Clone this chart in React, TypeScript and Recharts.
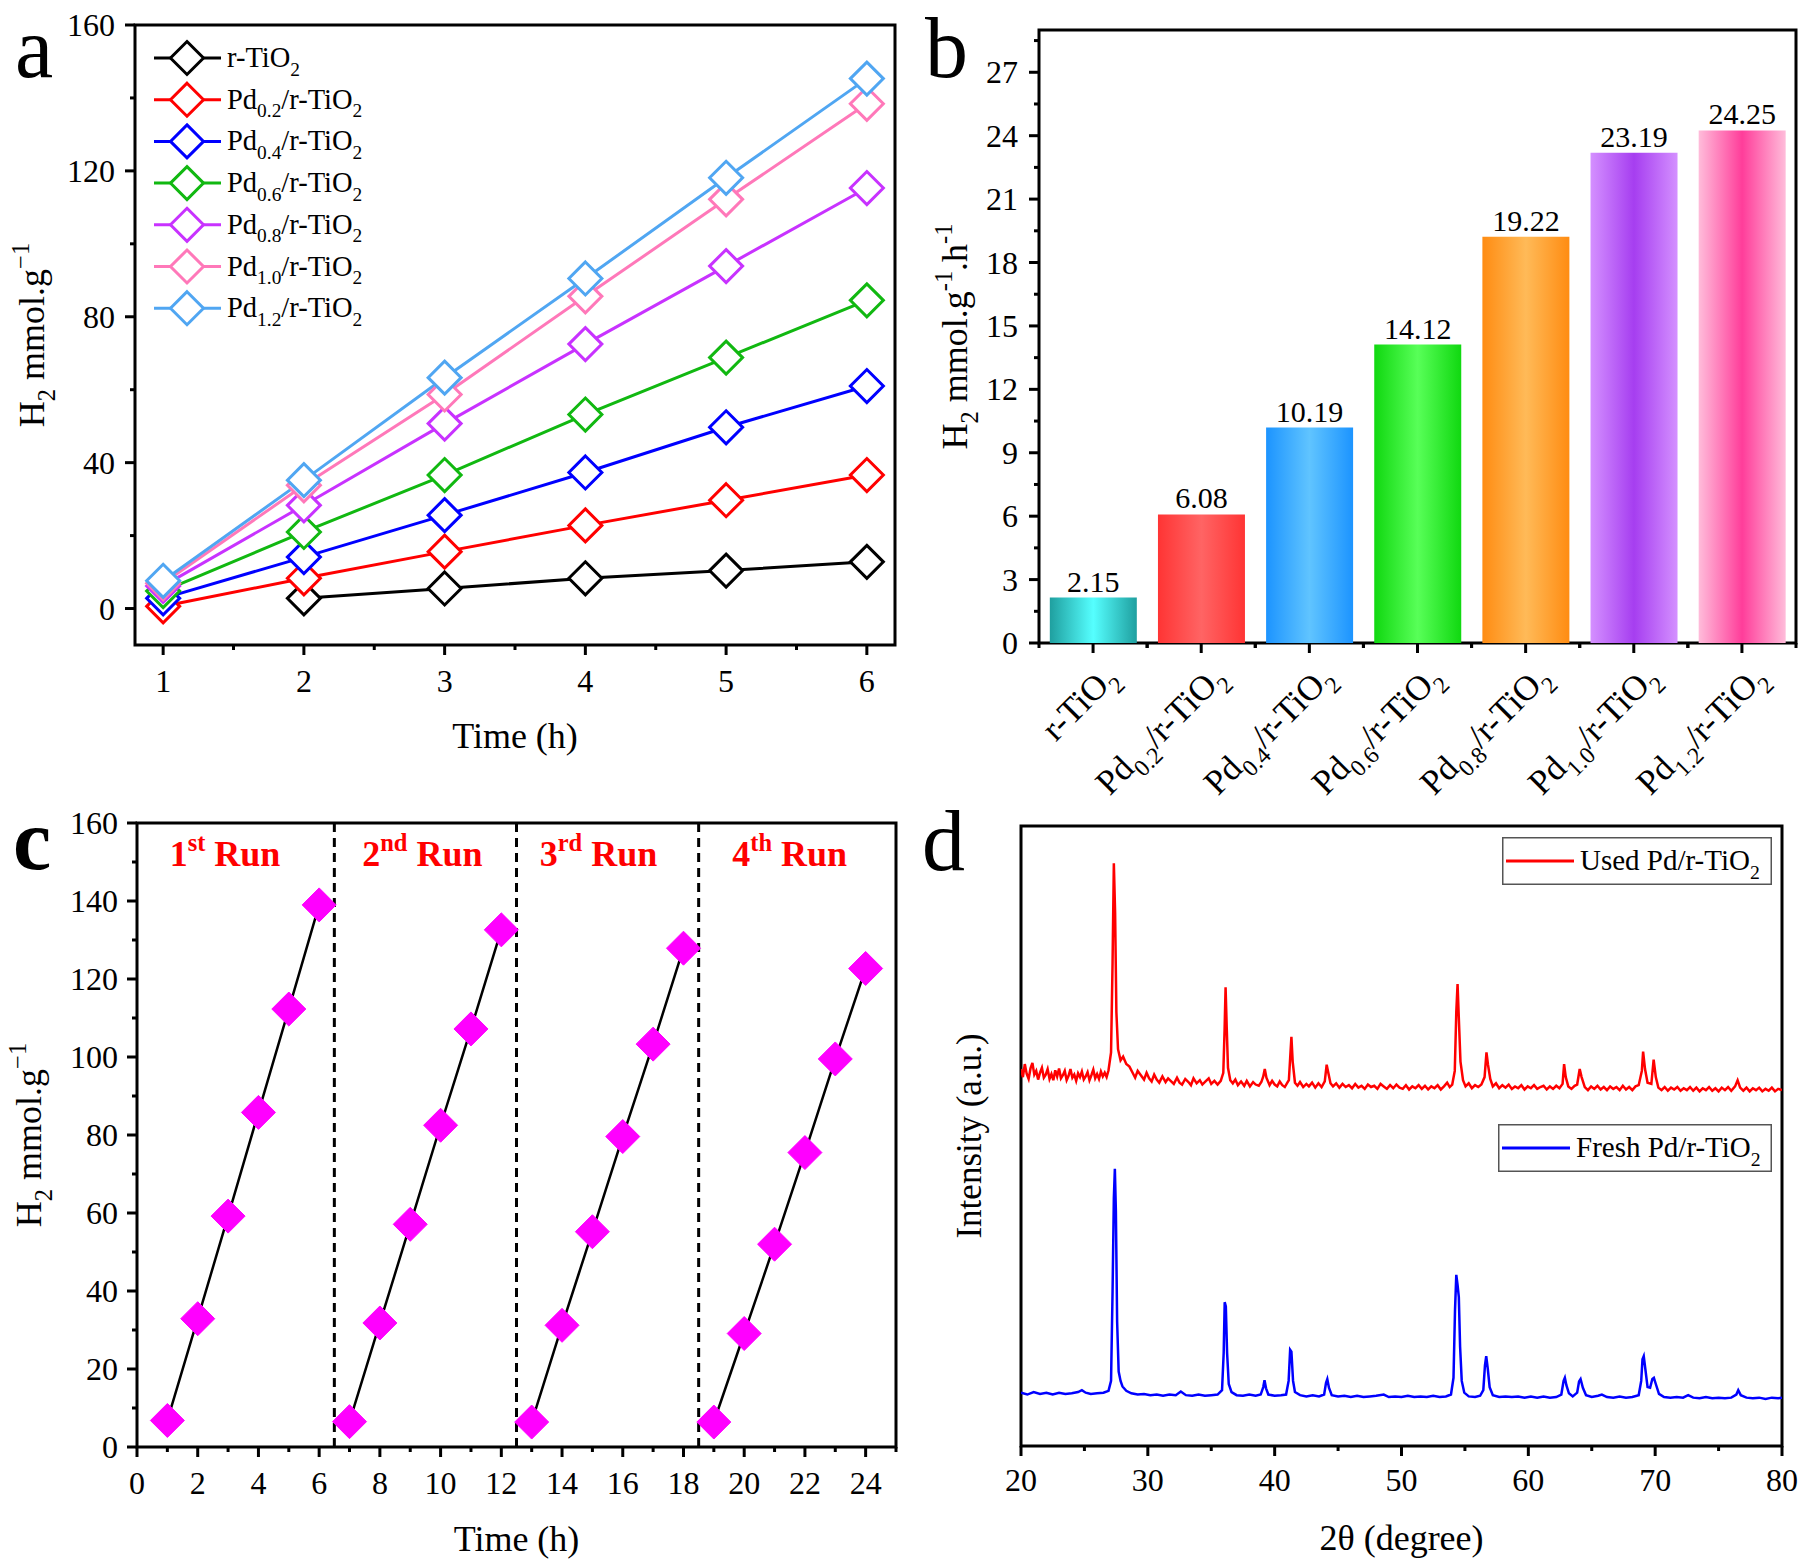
import {
  LineChart,
  Line,
  BarChart,
  Bar,
  Cell,
  XAxis,
  YAxis,
  Legend,
  LabelList,
  ReferenceLine,
  ReferenceArea,
} from "recharts"

const FONT = '"Liberation Serif", "Times New Roman", serif'

// ---- panel a: H2 evolution vs time ----
const hours = [1, 2, 3, 4, 5, 6]
const rTiO2 = [null, 2.8, 5.5, 8.3, 10.4, 12.8]
const pd02 = [0.6, 8.3, 15.6, 22.8, 29.7, 36.6]
const pd04 = [2.8, 14.1, 25.6, 37.3, 49.7, 61.0]
const pd06 = [4.8, 21.0, 36.6, 53.2, 68.8, 84.5]
const pd08 = [6.2, 28.3, 50.7, 72.5, 93.9, 115.3]
const pd10 = [6.9, 33.8, 58.7, 85.6, 112.2, 138.4]
const pd12 = [7.6, 35.2, 63.3, 90.5, 118.1, 145.3]
const sampleNames = [
  "r-TiO_{2}",
  "Pd_{0.2}/r-TiO_{2}",
  "Pd_{0.4}/r-TiO_{2}",
  "Pd_{0.6}/r-TiO_{2}",
  "Pd_{0.8}/r-TiO_{2}",
  "Pd_{1.0}/r-TiO_{2}",
  "Pd_{1.2}/r-TiO_{2}",
]
const lineColors = ["#000000", "#ff0000", "#0000ff", "#11b811", "#c832ff", "#ff78b9", "#50a6f2"]

// ---- panel b: rates ----
const rates = [2.15, 6.08, 10.19, 14.12, 19.22, 23.19, 24.25]
const barEdge = ["#1f9f9f", "#ff3434", "#1c94ff", "#10d810", "#ff8c12", "#d490ff", "#ffbcda"]
const barMid = ["#55ffff", "#ff6464", "#60c4ff", "#58ff58", "#ffba58", "#a63ef0", "#ff3d9a"]

// ---- panel c: cycling ----
const cycleHours = [1, 2, 3, 4, 5, 6, 7, 8, 9, 10, 11, 12, 13, 14, 15, 16, 17, 18, 19, 20, 21, 22, 23, 24]
const run1 = [6.8, 32.9, 59.2, 85.8, 112.3, 139.0]
const run2 = [6.5, 31.8, 57.1, 82.5, 107.2, 132.6]
const run3 = [6.4, 31.2, 55.2, 79.6, 103.3, 127.9]
const run4 = [6.4, 29.1, 52.0, 75.5, 99.5, 122.7]
const runDividers = [6.5, 12.5, 18.5]
const runLabelCenters = [2.9, 9.4, 15.2, 21.5]
const runLabels = ["1^{st} Run", "2^{nd} Run", "3^{rd} Run", "4^{th} Run"]

// ---- panel d: XRD ----
const usedPattern: [number, number][] = [
  [20.0, 60.8], [20.15, 59.5], [20.3, 61.6], [20.45, 60.0], [20.6, 59.2], [20.75, 60.9], [20.9, 61.8], [21.05, 59.9],
  [21.2, 60.5], [21.35, 59.1], [21.5, 60.2], [21.65, 61.0], [21.8, 59.4], [21.95, 59.9], [22.1, 60.8], [22.25, 59.2],
  [22.4, 60.0], [22.55, 59.0], [22.7, 60.6], [22.85, 59.6], [23.0, 60.9], [23.15, 59.3], [23.3, 59.8], [23.45, 60.5],
  [23.6, 59.0], [23.75, 59.7], [23.9, 60.8], [24.05, 59.4], [24.2, 59.9], [24.35, 58.9], [24.5, 60.1], [24.65, 59.5],
  [24.8, 60.4], [24.95, 59.1], [25.1, 59.6], [25.25, 60.3], [25.4, 59.0], [25.55, 59.8], [25.7, 60.7], [25.85, 59.3],
  [26.0, 60.0], [26.15, 59.2], [26.3, 60.4], [26.45, 59.6], [26.6, 60.2], [26.75, 59.5], [26.9, 60.6],
  [27.1, 63.5], [27.22, 78.0], [27.32, 94.0], [27.42, 86.0], [27.52, 70.0], [27.65, 64.0], [27.85, 62.2],
  [28.05, 62.8], [28.3, 61.6], [28.55, 61.2], [28.8, 60.2], [29.0, 59.4], [29.2, 60.5], [29.45, 59.8], [29.7, 59.1],
  [29.9, 60.2], [30.1, 59.3], [30.3, 58.8], [30.5, 59.9], [30.7, 59.1], [30.9, 58.6], [31.15, 59.6], [31.4, 58.7],
  [31.6, 59.3], [31.8, 58.9], [32.05, 58.4], [32.3, 59.4], [32.5, 58.6], [32.7, 58.3], [32.95, 59.2], [33.2, 58.7],
  [33.4, 58.2], [33.6, 59.3], [33.85, 58.5], [34.1, 59.0], [34.3, 58.3], [34.55, 58.8], [34.8, 59.3], [35.0, 58.4],
  [35.25, 58.9], [35.5, 58.3], [35.75, 58.9], [35.95, 60.2], [36.05, 67.0], [36.13, 74.0], [36.22, 67.5],
  [36.32, 61.0], [36.5, 59.0], [36.7, 58.5], [36.9, 59.1], [37.1, 58.2], [37.35, 58.8], [37.6, 58.1], [37.8, 58.9],
  [38.05, 58.0], [38.3, 58.7], [38.5, 58.3], [38.75, 58.1], [38.95, 58.7], [39.1, 59.6], [39.22, 60.8],
  [39.35, 59.4], [39.6, 58.2], [39.8, 58.9], [40.0, 58.3], [40.2, 58.0], [40.4, 58.8], [40.6, 58.2], [40.8, 57.9],
  [41.0, 58.6], [41.12, 59.0], [41.22, 62.5], [41.32, 66.0], [41.42, 62.0], [41.6, 58.6], [41.8, 58.1], [42.0, 58.7],
  [42.25, 57.9], [42.5, 58.4], [42.7, 58.0], [42.95, 58.6], [43.2, 57.8], [43.45, 58.5], [43.7, 57.9], [43.95, 58.8],
  [44.1, 61.5], [44.22, 60.3], [44.4, 58.5], [44.6, 58.0], [44.85, 58.5], [45.1, 57.8], [45.35, 58.4], [45.6, 57.9],
  [45.85, 58.2], [46.1, 57.7], [46.35, 58.4], [46.6, 57.8], [46.85, 58.1], [47.1, 57.6], [47.35, 58.3], [47.6, 57.9],
  [47.85, 58.1], [48.1, 57.6], [48.35, 58.4], [48.6, 58.0], [48.85, 57.6], [49.1, 58.2], [49.35, 57.7], [49.6, 58.3],
  [49.85, 57.8], [50.1, 57.6], [50.35, 58.2], [50.6, 57.5], [50.85, 58.0], [51.1, 57.7], [51.35, 58.2], [51.6, 57.6],
  [51.85, 58.1], [52.1, 57.5], [52.35, 58.0], [52.6, 57.7], [52.85, 58.2], [53.1, 57.5], [53.35, 58.0], [53.6, 58.6],
  [53.8, 57.9], [54.0, 58.3], [54.2, 60.5], [54.32, 70.0], [54.42, 74.5], [54.52, 69.0], [54.65, 62.0],
  [54.85, 59.0], [55.05, 58.0], [55.3, 58.5], [55.55, 57.7], [55.8, 58.2], [56.05, 57.9], [56.3, 58.3], [56.55, 59.5],
  [56.7, 63.5], [56.82, 61.5], [57.0, 59.2], [57.2, 58.0], [57.45, 58.5], [57.7, 57.7], [57.95, 58.2], [58.2, 57.8],
  [58.45, 58.3], [58.7, 57.6], [58.95, 58.0], [59.2, 57.7], [59.45, 58.2], [59.7, 57.5], [59.95, 58.0], [60.2, 57.7],
  [60.45, 58.2], [60.7, 57.6], [60.95, 57.9], [61.2, 58.1], [61.45, 57.5], [61.7, 58.0], [61.95, 57.6], [62.2, 58.1],
  [62.45, 57.7], [62.7, 58.4], [62.82, 61.6], [62.95, 59.5], [63.15, 58.0], [63.4, 57.6], [63.65, 58.1], [63.85, 58.3],
  [64.05, 60.8], [64.2, 59.5], [64.45, 57.9], [64.7, 57.4], [64.95, 58.0], [65.2, 57.6], [65.45, 58.1], [65.7, 57.5],
  [65.95, 57.9], [66.2, 57.4], [66.45, 58.0], [66.7, 57.6], [66.95, 57.9], [67.2, 57.4], [67.45, 58.1], [67.7, 57.5],
  [67.95, 57.9], [68.2, 57.4], [68.45, 58.0], [68.7, 58.2], [68.95, 60.5], [69.05, 63.6], [69.2, 60.8], [69.4, 58.6],
  [69.7, 58.4], [69.88, 62.3], [70.05, 59.5], [70.25, 57.8], [70.5, 57.4], [70.75, 57.9], [71.0, 57.3], [71.25, 57.8],
  [71.5, 57.5], [71.75, 57.9], [72.0, 57.3], [72.25, 57.7], [72.5, 57.4], [72.75, 57.9], [73.0, 57.3], [73.25, 57.8],
  [73.5, 57.2], [73.75, 57.7], [74.0, 57.4], [74.25, 57.9], [74.5, 57.3], [74.75, 57.7], [75.0, 57.2], [75.25, 57.8],
  [75.5, 57.4], [75.75, 57.9], [76.0, 57.3], [76.3, 58.0], [76.5, 59.0], [76.7, 57.8], [76.95, 57.3], [77.2, 57.8],
  [77.45, 57.2], [77.7, 57.7], [77.95, 57.4], [78.2, 57.8], [78.45, 57.2], [78.7, 57.6], [78.95, 57.3], [79.2, 57.8],
  [79.45, 57.2], [79.7, 57.6], [80.0, 57.4],
]
const freshPattern: [number, number][] = [
  [20.0, 8.6], [20.5, 8.3], [21.0, 8.7], [21.5, 8.4], [22.0, 8.6], [22.5, 8.3], [23.0, 8.6], [23.5, 8.4],
  [24.0, 8.5], [24.5, 8.7], [24.8, 9.0], [25.1, 8.6], [25.5, 8.4], [26.0, 8.5], [26.5, 8.6], [26.9, 8.9],
  [27.1, 10.5], [27.22, 25.0], [27.32, 40.0], [27.4, 44.7], [27.48, 38.0], [27.58, 20.0], [27.7, 12.0],
  [27.85, 10.5], [28.0, 9.6], [28.3, 8.9], [28.7, 8.5], [29.2, 8.3], [29.7, 8.4], [30.2, 8.2], [30.7, 8.3],
  [31.2, 8.1], [31.7, 8.3], [32.2, 8.2], [32.6, 8.8], [33.0, 8.2], [33.5, 8.1], [34.0, 8.3], [34.5, 8.1],
  [35.0, 8.2], [35.5, 8.3], [35.85, 9.0], [35.98, 15.0], [36.06, 23.2], [36.15, 22.5], [36.25, 15.0],
  [36.38, 10.0], [36.6, 8.7], [37.0, 8.2], [37.5, 8.1], [38.0, 8.3], [38.5, 8.1], [38.9, 8.3], [39.1, 9.5],
  [39.2, 10.6], [39.32, 9.3], [39.5, 8.3], [40.0, 8.1], [40.5, 8.2], [40.9, 8.3], [41.1, 10.5], [41.22, 15.5],
  [41.32, 15.2], [41.45, 10.5], [41.6, 8.7], [42.0, 8.2], [42.5, 8.0], [43.0, 8.2], [43.5, 8.0], [43.9, 8.3],
  [44.05, 10.2], [44.15, 10.8], [44.28, 9.4], [44.5, 8.2], [45.0, 8.0], [45.5, 8.1], [46.0, 7.9], [46.5, 8.1],
  [47.0, 7.9], [47.5, 8.0], [48.0, 8.1], [48.6, 8.3], [49.0, 7.9], [49.5, 8.0], [50.0, 7.9], [50.5, 8.1],
  [51.0, 7.9], [51.5, 8.0], [52.0, 7.9], [52.5, 8.1], [53.0, 7.9], [53.5, 8.0], [53.9, 8.3], [54.1, 11.0],
  [54.22, 22.0], [54.32, 27.6], [54.42, 26.0], [54.52, 24.0], [54.62, 16.0], [54.75, 10.5], [54.95, 8.6],
  [55.3, 8.0], [55.8, 7.9], [56.2, 8.1], [56.45, 9.0], [56.58, 13.0], [56.68, 14.5], [56.8, 12.5], [56.95, 9.5],
  [57.2, 8.2], [57.7, 7.9], [58.2, 8.0], [58.7, 7.9], [59.2, 8.0], [59.7, 7.8], [60.2, 8.0], [60.7, 7.8],
  [61.2, 8.0], [61.7, 7.8], [62.2, 7.9], [62.6, 8.3], [62.78, 10.5], [62.88, 11.0], [63.0, 9.8], [63.2, 8.5],
  [63.5, 8.0], [63.85, 8.6], [64.0, 10.4], [64.12, 10.8], [64.3, 9.4], [64.55, 8.2], [65.0, 7.9], [65.5, 8.1],
  [65.8, 8.3], [66.2, 7.9], [66.7, 7.8], [67.2, 8.0], [67.7, 7.8], [68.2, 7.9], [68.7, 8.2], [68.9, 10.5],
  [69.0, 14.0], [69.1, 14.5], [69.22, 12.5], [69.4, 9.5], [69.6, 9.4], [69.78, 10.8], [69.9, 11.0], [70.05, 10.0],
  [70.3, 8.4], [70.7, 7.9], [71.2, 7.8], [71.7, 7.9], [72.2, 7.8], [72.6, 8.2], [73.0, 7.8], [73.5, 7.7],
  [74.0, 7.9], [74.5, 7.7], [75.0, 7.8], [75.5, 7.7], [76.0, 7.8], [76.4, 8.3], [76.55, 9.0], [76.75, 8.2],
  [77.2, 7.8], [77.7, 7.7], [78.2, 7.8], [78.7, 7.6], [79.2, 7.8], [79.7, 7.7], [80.0, 7.8],
]

// ---------- helpers ----------
type Part = { t: string; k: "n" | "sub" | "sup" }

function parseRich(s: string): Part[] {
  const out: Part[] = []
  const re = /([_^])\{([^}]*)\}/g
  let last = 0
  let m: RegExpExecArray | null
  while ((m = re.exec(s))) {
    if (m.index > last) out.push({ t: s.slice(last, m.index), k: "n" })
    out.push({ t: m[2], k: m[1] === "_" ? "sub" : "sup" })
    last = re.lastIndex
  }
  if (last < s.length) out.push({ t: s.slice(last), k: "n" })
  return out
}

function richSpans(s: string, size: number) {
  let shift = 0
  return parseRich(s).map((p, i) => {
    const target = p.k === "sub" ? size * 0.3 : p.k === "sup" ? -size * 0.42 : 0
    const dy = target - shift
    shift = target
    return (
      <tspan key={i} dy={dy} fontSize={p.k === "n" ? size : size * 0.68}>
        {p.t}
      </tspan>
    )
  })
}

const TICK_FS = 32

function numTick(side: "bottom" | "left", isMajor: (v: number) => boolean, gap: number) {
  return (p: any) => {
    const { x, y, payload, index } = p
    const v = payload.value
    const major = isMajor(v)
    const len = major ? 10 : 5
    if (side === "bottom") {
      return (
        <g key={`t-${index}`}>
          <line x1={x} x2={x} y1={y} y2={y + len} stroke="#000" strokeWidth={3} />
          {major && (
            <text x={x} y={y + gap} textAnchor="middle" fontSize={TICK_FS} fontFamily={FONT} fill="#000">
              {v}
            </text>
          )}
        </g>
      )
    }
    return (
      <g key={`t-${index}`}>
        <line x1={x} x2={x - len} y1={y} y2={y} stroke="#000" strokeWidth={3} />
        {major && (
          <text x={x - gap} y={y + 11} textAnchor="end" fontSize={TICK_FS} fontFamily={FONT} fill="#000">
            {v}
          </text>
        )}
      </g>
    )
  }
}

const multipleOf = (step: number) => (v: number) => Math.abs(v / step - Math.round(v / step)) < 1e-6

function yTitle(text: string, dx: number, size = 36) {
  return (props: any) => {
    const { x, y, height } = props.viewBox
    const cx = x + dx
    const cy = y + height / 2
    return (
      <text
        x={cx}
        y={cy}
        transform={`rotate(-90 ${cx} ${cy})`}
        textAnchor="middle"
        fontFamily={FONT}
        fill="#000"
        style={{ whiteSpace: "pre" }}
      >
        {richSpans(text, size)}
      </text>
    )
  }
}

function xTitle(text: string, dy: number, size = 36) {
  return (props: any) => {
    const { x, y, width } = props.viewBox
    return (
      <text x={x + width / 2} y={y + dy} textAnchor="middle" fontFamily={FONT} fill="#000" style={{ whiteSpace: "pre" }}>
        {richSpans(text, size)}
      </text>
    )
  }
}

const hollowDiamond = (color: string) => (p: any) => {
  if (p.cx == null || p.cy == null || p.value == null) return <g key={`d-${p.index}`} />
  const r = 16.5
  return (
    <polygon
      key={`d-${p.index}`}
      points={`${p.cx},${p.cy - r} ${p.cx + r},${p.cy} ${p.cx},${p.cy + r} ${p.cx - r},${p.cy}`}
      fill="#fff"
      stroke={color}
      strokeWidth={3}
    />
  )
}

const solidDiamond = (p: any) => {
  if (p.cx == null || p.cy == null) return <g key={`s-${p.index}`} />
  const r = 17
  return (
    <polygon
      key={`s-${p.index}`}
      points={`${p.cx},${p.cy - r} ${p.cx + r},${p.cy} ${p.cx},${p.cy + r} ${p.cx - r},${p.cy}`}
      fill="#ff00ff"
      stroke="#ff00ff"
      strokeWidth={1}
    />
  )
}

// ---------- panel a ----------
const seriesA = [rTiO2, pd02, pd04, pd06, pd08, pd10, pd12]
const keysA = ["s0", "s1", "s2", "s3", "s4", "s5", "s6"]
const rowsA = hours.map((h, i) => {
  const row: Record<string, number | null> = { h }
  seriesA.forEach((s, k) => (row[keysA[k]] = s[i]))
  return row
})

function LegendA(props: any) {
  const payload = props.payload || []
  return (
    <svg width={280} height={300}>
      {keysA.map((k, i) => {
        const item = payload.find((p: any) => p.dataKey === k)
        const color = item ? item.color : lineColors[i]
        const name = item ? item.value : sampleNames[i]
        const cy = 23 + i * 41.7
        const r = 16.5
        return (
          <g key={k}>
            <line x1={4} x2={71} y1={cy} y2={cy} stroke={color} strokeWidth={3} />
            <polygon
              points={`37,${cy - r} ${37 + r},${cy} 37,${cy + r} ${37 - r},${cy}`}
              fill="#fff"
              stroke={color}
              strokeWidth={3}
            />
            <text x={77} y={cy + 9} fontFamily={FONT} fill="#000" style={{ whiteSpace: "pre" }}>
              {richSpans(name, 28.5)}
            </text>
          </g>
        )
      })}
    </svg>
  )
}

function PanelA() {
  return (
    <LineChart width={900} height={780} data={rowsA} margin={{ top: 25, right: 5, left: 0, bottom: 0 }}>
      <XAxis
        dataKey="h"
        type="number"
        domain={[0.8, 6.2]}
        allowDataOverflow
        ticks={[1, 1.5, 2, 2.5, 3, 3.5, 4, 4.5, 5, 5.5, 6]}
        interval={0}
        height={135}
        tickSize={0}
        tickMargin={0}
        tickLine={false}
        axisLine={false}
        tick={numTick("bottom", multipleOf(1), 47)}
        label={{ content: xTitle("Time (h)", 103) }}
      />
      <YAxis
        type="number"
        domain={[-10, 160]}
        allowDataOverflow
        ticks={[0, 20, 40, 60, 80, 100, 120, 140, 160]}
        interval={0}
        width={135}
        tickSize={0}
        tickMargin={0}
        tickLine={false}
        axisLine={false}
        tick={numTick("left", multipleOf(40), 20)}
        label={{ content: yTitle("H_{2} mmol.g^{\u22121}", 44) }}
      />
      <ReferenceArea y1={-10} y2={160} fill="none" stroke="#000" strokeWidth={3} ifOverflow="visible" />
      {keysA.map((k, i) => (
        <Line
          key={k}
          dataKey={k}
          name={sampleNames[i]}
          type="linear"
          stroke={lineColors[i]}
          strokeWidth={3}
          dot={hollowDiamond(lineColors[i])}
          activeDot={false}
          connectNulls={false}
          isAnimationActive={false}
        />
      ))}
      <Legend
        layout="horizontal"
        verticalAlign="middle"
        align="center"
        content={LegendA}
        wrapperStyle={{ left: 150, top: 35, width: 280, height: 300 }}
      />
    </LineChart>
  )
}

// ---------- panel b ----------
const rowsB = sampleNames.map((name, i) => ({ name, rate: rates[i] }))
const BAND_B = (900 - 4 - 139) / 7

function BarTick(p: any) {
  const { x, y, payload, index } = p
  const ax = x + 26
  const ay = y + 36
  return (
    <g key={`b-${index}`}>
      <line x1={x} x2={x} y1={y} y2={y + 10} stroke="#000" strokeWidth={3} />
      <line x1={x - BAND_B / 2} x2={x - BAND_B / 2} y1={y} y2={y + 5} stroke="#000" strokeWidth={3} />
      <line x1={x + BAND_B / 2} x2={x + BAND_B / 2} y1={y} y2={y + 5} stroke="#000" strokeWidth={3} />
      <text
        x={ax}
        y={ay}
        transform={`rotate(-45 ${ax} ${ay})`}
        textAnchor="end"
        fontFamily={FONT}
        fill="#000"
        style={{ whiteSpace: "pre" }}
      >
        {richSpans(payload.value, 35)}
      </text>
    </g>
  )
}

function PanelB() {
  return (
    <BarChart
      width={900}
      height={840}
      data={rowsB}
      margin={{ top: 30, right: 4, left: 0, bottom: 0 }}
      barCategoryGap="10%"
    >
      <defs>
        {barEdge.map((edge, i) => (
          <linearGradient key={i} id={`bg${i}`} x1="0" y1="0" x2="1" y2="0">
            <stop offset="0%" stopColor={edge} />
            <stop offset="50%" stopColor={barMid[i]} />
            <stop offset="100%" stopColor={edge} />
          </linearGradient>
        ))}
      </defs>
      <XAxis
        dataKey="name"
        type="category"
        interval={0}
        height={197}
        tickSize={0}
        tickMargin={0}
        tickLine={false}
        axisLine={false}
        tick={BarTick}
      />
      <YAxis
        type="number"
        domain={[0, 29]}
        allowDataOverflow
        ticks={[0, 1.5, 3, 4.5, 6, 7.5, 9, 10.5, 12, 13.5, 15, 16.5, 18, 19.5, 21, 22.5, 24, 25.5, 27, 28.5]}
        interval={0}
        width={139}
        tickSize={0}
        tickMargin={0}
        tickLine={false}
        axisLine={false}
        tick={numTick("left", multipleOf(3), 21)}
        label={{ content: yTitle("H_{2} mmol.g^{-1}.h^{-1}", 67) }}
      />
      <Bar dataKey="rate" isAnimationActive={false}>
        {rowsB.map((_, i) => (
          <Cell key={i} fill={`url(#bg${i})`} />
        ))}
        <LabelList
          dataKey="rate"
          position="top"
          offset={6}
          fill="#000"
          fontSize={30}
          fontFamily={FONT}
          formatter={(v: any) => Number(v).toFixed(2)}
        />
      </Bar>
      <ReferenceArea y1={0} y2={29} fill="none" stroke="#000" strokeWidth={3} ifOverflow="visible" />
    </BarChart>
  )
}

// ---------- panel c ----------
const runs = [run1, run2, run3, run4]
const runData = runs.map((vals, r) => vals.map((v, i) => ({ t: cycleHours[r * 6 + i], h2: v })))

function runLabel(text: string) {
  return (props: any) => {
    const { x, y, width } = props.viewBox
    return (
      <text
        x={x + width / 2}
        y={y + 43}
        textAnchor="middle"
        fontFamily={FONT}
        fontWeight="bold"
        fill="#ff0000"
        style={{ whiteSpace: "pre" }}
      >
        {richSpans(text, 36)}
      </text>
    )
  }
}

function PanelC() {
  return (
    <LineChart width={900} height={785} margin={{ top: 43, right: 4, left: 0, bottom: 0 }}>
      <XAxis
        dataKey="t"
        type="number"
        domain={[0, 25]}
        allowDataOverflow
        ticks={[0, 1, 2, 3, 4, 5, 6, 7, 8, 9, 10, 11, 12, 13, 14, 15, 16, 17, 18, 19, 20, 21, 22, 23, 24, 25]}
        interval={0}
        height={118}
        tickSize={0}
        tickMargin={0}
        tickLine={false}
        axisLine={false}
        tick={numTick("bottom", multipleOf(2), 47)}
        label={{ content: xTitle("Time (h)", 104) }}
      />
      <YAxis
        type="number"
        domain={[0, 160]}
        allowDataOverflow
        ticks={[0, 10, 20, 30, 40, 50, 60, 70, 80, 90, 100, 110, 120, 130, 140, 150, 160]}
        interval={0}
        width={137}
        tickSize={0}
        tickMargin={0}
        tickLine={false}
        axisLine={false}
        tick={numTick("left", multipleOf(20), 19)}
        label={{ content: yTitle("H_{2} mmol.g^{\u22121}", 41) }}
      />
      {runLabels.map((txt, i) => (
        <ReferenceArea
          key={txt}
          x1={runLabelCenters[i] - 1}
          x2={runLabelCenters[i] + 1}
          fill="none"
          stroke="none"
          ifOverflow="visible"
          label={runLabel(txt)}
        />
      ))}
      {runDividers.map((e) => (
        <ReferenceLine key={e} x={e} stroke="#000" strokeWidth={3} strokeDasharray="9 6" />
      ))}
      <ReferenceArea y1={0} y2={160} fill="none" stroke="#000" strokeWidth={3} ifOverflow="visible" />
      {runData.map((d, i) => (
        <Line
          key={i}
          data={d}
          dataKey="h2"
          type="monotone"
          stroke="#000"
          strokeWidth={2.5}
          dot={solidDiamond}
          activeDot={false}
          isAnimationActive={false}
        />
      ))}
    </LineChart>
  )
}

// ---------- panel d ----------
const usedRows = usedPattern.map(([x, v]) => ({ x, used: v }))
const freshRows = freshPattern.map(([x, v]) => ({ x, fresh: v }))

function LegendD(props: any) {
  const payload = props.payload || []
  const boxes = [
    { key: "used", left: 602, top: 57, width: 270 },
    { key: "fresh", left: 598, top: 344, width: 274 },
  ]
  return (
    <div style={{ position: "relative", width: 900, height: 785 }}>
      {boxes.map((b) => {
        const item = payload.find((p: any) => p.dataKey === b.key)
        if (!item) return null
        return (
          <svg
            key={b.key}
            width={b.width + 6}
            height={48}
            style={{ position: "absolute", left: b.left, top: b.top, overflow: "visible" }}
          >
            <rect x={0.75} y={0.75} width={b.width - 1.5} height={46.5} fill="#fff" stroke="#555" strokeWidth={1.5} />
            <line x1={4} x2={72} y1={24} y2={24} stroke={item.color} strokeWidth={3} />
            <text x={78} y={33} fontFamily={FONT} fill="#000" style={{ whiteSpace: "pre" }}>
              {richSpans(item.value, 29)}
            </text>
          </svg>
        )
      })}
    </div>
  )
}

function PanelD() {
  return (
    <LineChart width={900} height={785} margin={{ top: 46, right: 18, left: 0, bottom: 0 }}>
      <XAxis
        dataKey="x"
        type="number"
        domain={[20, 80]}
        allowDataOverflow
        ticks={[20, 25, 30, 35, 40, 45, 50, 55, 60, 65, 70, 75, 80]}
        interval={0}
        height={119}
        tickSize={0}
        tickMargin={0}
        tickLine={false}
        axisLine={false}
        tick={numTick("bottom", multipleOf(10), 45)}
        label={{ content: xTitle("2\u03b8 (degree)", 104) }}
      />
      <YAxis
        type="number"
        domain={[0, 100]}
        allowDataOverflow
        width={121}
        tick={false}
        tickLine={false}
        axisLine={false}
        label={{ content: yTitle("Intensity (a.u.)", 81, 35) }}
      />
      <ReferenceArea y1={0} y2={100} fill="none" stroke="#000" strokeWidth={3} ifOverflow="visible" />
      <Line
        data={usedRows}
        dataKey="used"
        name="Used Pd/r-TiO_{2}"
        type="linear"
        stroke="#ff0000"
        strokeWidth={2.5}
        dot={false}
        activeDot={false}
        isAnimationActive={false}
      />
      <Line
        data={freshRows}
        dataKey="fresh"
        name="Fresh Pd/r-TiO_{2}"
        type="linear"
        stroke="#0000ff"
        strokeWidth={2.5}
        dot={false}
        activeDot={false}
        isAnimationActive={false}
      />
      <Legend
        layout="horizontal"
        verticalAlign="middle"
        align="center"
        content={LegendD}
        wrapperStyle={{ left: 0, top: 0, width: 900, height: 785 }}
      />
    </LineChart>
  )
}

const letterStyle = (left: number, top: number, bold = false): any => ({
  position: "absolute",
  left,
  top,
  fontSize: 86,
  lineHeight: "70px",
  fontFamily: FONT,
  fontWeight: bold ? "bold" : "normal",
  color: "#000",
})

export default function App() {
  return (
    <div
      style={{
        position: "absolute",
        left: 0,
        top: 0,
        width: 1800,
        height: 1565,
        background: "#fff",
        fontFamily: FONT,
        overflow: "hidden",
      }}
    >
      <div style={{ position: "absolute", left: 0, top: 0 }}>
        <PanelA />
      </div>
      <div style={{ position: "absolute", left: 0, top: 780 }}>
        <PanelC />
      </div>
      <div style={{ position: "absolute", left: 900, top: 780 }}>
        <PanelD />
      </div>
      <div style={{ position: "absolute", left: 900, top: 0 }}>
        <PanelB />
      </div>
      <div style={letterStyle(15, 13)}>a</div>
      <div style={letterStyle(925, 13)}>b</div>
      <div style={letterStyle(13, 805, true)}>c</div>
      <div style={letterStyle(922, 806)}>d</div>
    </div>
  )
}
